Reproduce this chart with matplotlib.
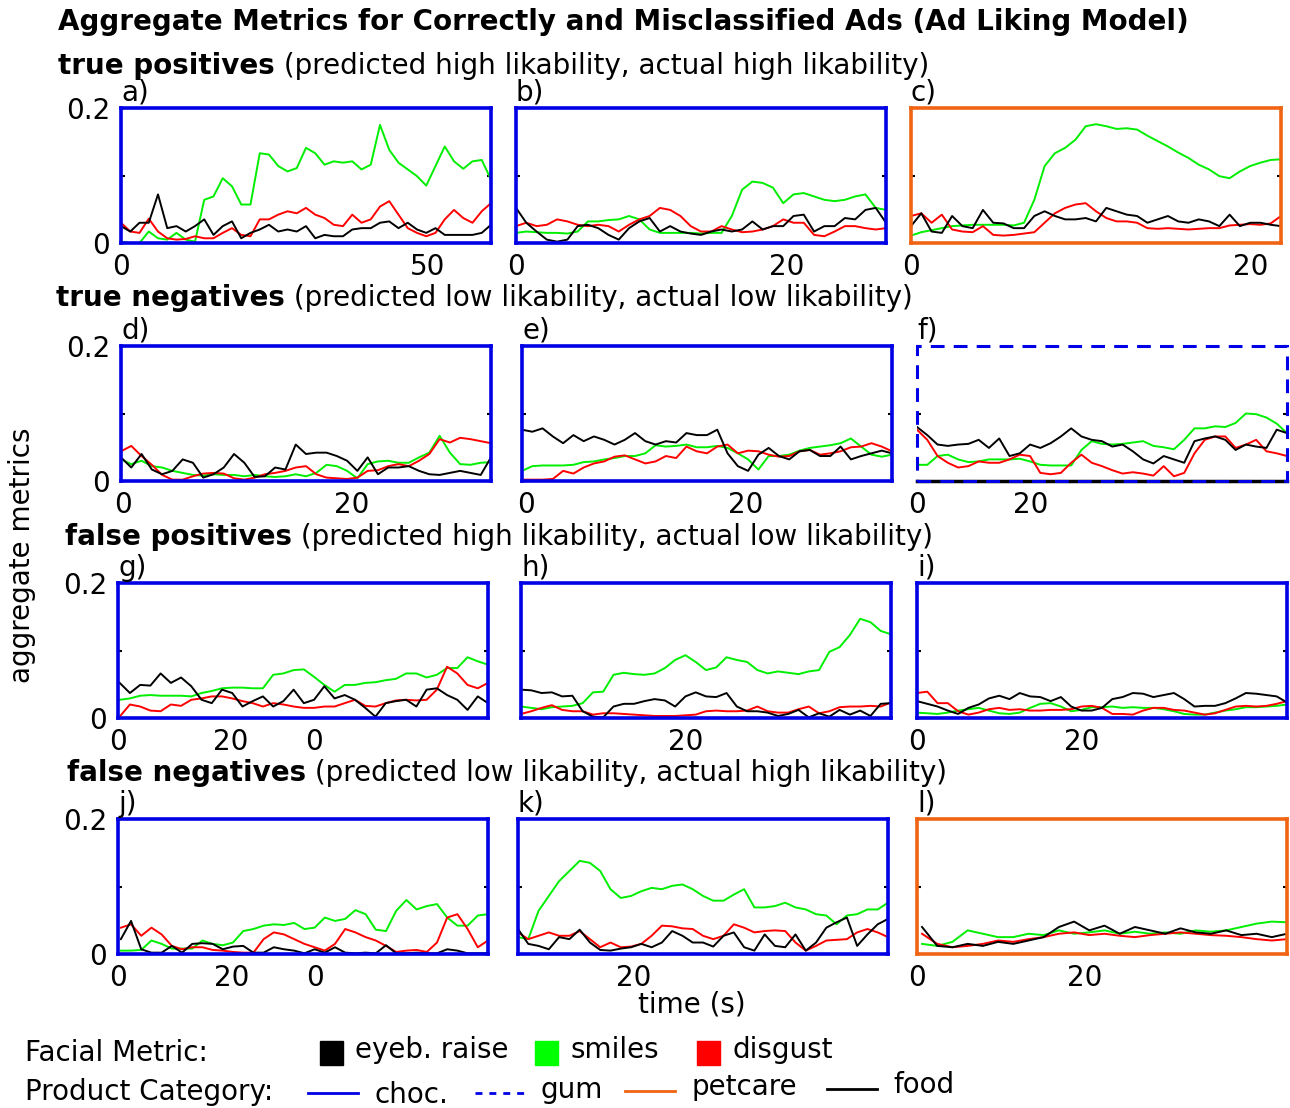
import numpy as np
import matplotlib.pyplot as plt
from matplotlib.lines import Line2D
from matplotlib.patches import Rectangle

W, H = 1290, 1108
FS = 20

BLUE = '#0000e6'
ORANGE = '#f06414'
GREEN = '#00ee00'
RED = '#ff0000'

# facial metric traces, sampled evenly over each ad's time range
# a) true positive, choc.
a_smile = [0.002, 0.0, 0.0, 0.017, 0.007, 0.005, 0.015, 0.005, 0.002, 0.064, 0.069, 0.096, 0.084, 0.057,
           0.057, 0.133, 0.131, 0.114, 0.106, 0.111, 0.141, 0.133, 0.116, 0.121, 0.119, 0.121, 0.109, 0.116,
           0.175, 0.138, 0.119, 0.109, 0.099, 0.085, 0.114, 0.143, 0.121, 0.110, 0.121, 0.123, 0.094]
a_disg = [0.030, 0.017, 0.015, 0.036, 0.017, 0.007, 0.005, 0.006, 0.010, 0.007, 0.007, 0.015, 0.022, 0.012,
          0.010, 0.035, 0.035, 0.042, 0.047, 0.044, 0.052, 0.042, 0.037, 0.027, 0.025, 0.042, 0.030, 0.035,
          0.054, 0.062, 0.042, 0.022, 0.015, 0.010, 0.015, 0.035, 0.049, 0.037, 0.030, 0.047, 0.059]
a_eyeb = [0.025, 0.017, 0.030, 0.030, 0.072, 0.022, 0.025, 0.017, 0.025, 0.035, 0.012, 0.025, 0.032, 0.007,
          0.015, 0.020, 0.027, 0.017, 0.020, 0.017, 0.025, 0.007, 0.012, 0.010, 0.010, 0.020, 0.022, 0.022,
          0.030, 0.032, 0.022, 0.030, 0.020, 0.015, 0.022, 0.012, 0.012, 0.012, 0.012, 0.015, 0.027]

# b) true positive, choc.
b_smile = [0.015, 0.017, 0.016, 0.015, 0.015, 0.014, 0.017, 0.032, 0.032, 0.034, 0.035, 0.040, 0.035, 0.020,
           0.015, 0.015, 0.015, 0.015, 0.014, 0.015, 0.015, 0.040, 0.079, 0.091, 0.089, 0.082, 0.059, 0.072,
           0.074, 0.069, 0.064, 0.062, 0.064, 0.069, 0.072, 0.052, 0.049]
b_disg = [0.025, 0.030, 0.025, 0.027, 0.035, 0.032, 0.027, 0.025, 0.027, 0.025, 0.017, 0.027, 0.035, 0.040,
          0.052, 0.049, 0.040, 0.025, 0.017, 0.017, 0.025, 0.020, 0.016, 0.017, 0.020, 0.025, 0.035, 0.030,
          0.030, 0.012, 0.010, 0.017, 0.025, 0.025, 0.022, 0.020, 0.022]
b_eyeb = [0.052, 0.030, 0.017, 0.005, 0.002, 0.005, 0.025, 0.027, 0.022, 0.012, 0.005, 0.022, 0.032, 0.037,
          0.017, 0.025, 0.017, 0.014, 0.012, 0.017, 0.020, 0.017, 0.020, 0.032, 0.020, 0.025, 0.025, 0.040,
          0.042, 0.017, 0.025, 0.025, 0.037, 0.035, 0.049, 0.052, 0.030]

# c) true positive, petcare
c_smile = [0.011, 0.016, 0.019, 0.022, 0.025, 0.026, 0.027, 0.027, 0.027, 0.027, 0.026, 0.030, 0.064, 0.114,
           0.133, 0.141, 0.153, 0.173, 0.176, 0.173, 0.169, 0.170, 0.168, 0.159, 0.151, 0.143, 0.134, 0.126,
           0.116, 0.109, 0.099, 0.096, 0.106, 0.114, 0.119, 0.123, 0.124]
c_disg = [0.040, 0.044, 0.030, 0.042, 0.020, 0.017, 0.016, 0.025, 0.012, 0.011, 0.012, 0.014, 0.016, 0.030,
          0.044, 0.052, 0.057, 0.059, 0.047, 0.037, 0.032, 0.032, 0.030, 0.022, 0.021, 0.022, 0.021, 0.020,
          0.021, 0.022, 0.022, 0.026, 0.027, 0.028, 0.027, 0.029, 0.040]
c_eyeb = [0.025, 0.044, 0.017, 0.015, 0.040, 0.025, 0.022, 0.049, 0.030, 0.029, 0.022, 0.022, 0.040, 0.047,
          0.040, 0.035, 0.035, 0.037, 0.032, 0.052, 0.047, 0.042, 0.040, 0.030, 0.035, 0.040, 0.032, 0.030,
          0.035, 0.032, 0.025, 0.042, 0.025, 0.030, 0.030, 0.027, 0.025]

# d) true negative, choc.
d_smile = [0.032, 0.025, 0.030, 0.022, 0.020, 0.015, 0.012, 0.009, 0.008, 0.010, 0.009, 0.009, 0.007, 0.009,
           0.007, 0.006, 0.007, 0.010, 0.007, 0.012, 0.024, 0.022, 0.015, 0.004, 0.025, 0.029, 0.030, 0.027,
           0.027, 0.035, 0.042, 0.067, 0.042, 0.025, 0.024, 0.027, 0.028]
d_disg = [0.044, 0.052, 0.037, 0.024, 0.009, 0.002, 0.002, 0.007, 0.011, 0.012, 0.011, 0.004, 0.002, 0.005,
          0.010, 0.012, 0.015, 0.020, 0.022, 0.010, 0.005, 0.004, 0.003, 0.005, 0.015, 0.016, 0.022, 0.025,
          0.022, 0.030, 0.040, 0.062, 0.057, 0.064, 0.062, 0.059, 0.056]
d_eyeb = [0.035, 0.020, 0.040, 0.017, 0.010, 0.015, 0.032, 0.027, 0.005, 0.010, 0.020, 0.040, 0.027, 0.006,
          0.007, 0.020, 0.017, 0.054, 0.040, 0.042, 0.042, 0.037, 0.030, 0.015, 0.035, 0.010, 0.020, 0.020,
          0.022, 0.015, 0.010, 0.009, 0.012, 0.015, 0.012, 0.009, 0.035]

# e) true negative, choc.
e_smile = [0.015, 0.022, 0.023, 0.023, 0.023, 0.024, 0.028, 0.029, 0.032, 0.034, 0.037, 0.037, 0.041, 0.053,
           0.051, 0.052, 0.054, 0.050, 0.050, 0.052, 0.049, 0.041, 0.032, 0.017, 0.037, 0.037, 0.039, 0.045,
           0.049, 0.051, 0.053, 0.056, 0.063, 0.051, 0.039, 0.036, 0.039]
e_disg = [0.002, 0.002, 0.002, 0.003, 0.015, 0.011, 0.020, 0.026, 0.029, 0.036, 0.038, 0.032, 0.026, 0.029,
          0.037, 0.034, 0.051, 0.044, 0.041, 0.051, 0.054, 0.041, 0.045, 0.044, 0.039, 0.036, 0.037, 0.044,
          0.046, 0.039, 0.041, 0.044, 0.050, 0.051, 0.056, 0.051, 0.044]
e_eyeb = [0.076, 0.073, 0.078, 0.066, 0.056, 0.068, 0.059, 0.066, 0.061, 0.054, 0.061, 0.071, 0.059, 0.054,
          0.059, 0.057, 0.071, 0.068, 0.068, 0.076, 0.041, 0.022, 0.015, 0.039, 0.049, 0.037, 0.032, 0.044,
          0.046, 0.037, 0.037, 0.051, 0.032, 0.037, 0.041, 0.045, 0.041]

# f) true negative, gum
f_smile = [0.024, 0.024, 0.037, 0.039, 0.032, 0.028, 0.029, 0.032, 0.032, 0.032, 0.033, 0.029, 0.024, 0.023,
           0.023, 0.023, 0.046, 0.059, 0.055, 0.054, 0.055, 0.057, 0.059, 0.052, 0.050, 0.047, 0.061, 0.078,
           0.078, 0.081, 0.080, 0.086, 0.100, 0.099, 0.094, 0.085, 0.071]
f_disg = [0.076, 0.061, 0.037, 0.027, 0.020, 0.022, 0.029, 0.027, 0.027, 0.032, 0.039, 0.037, 0.012, 0.010,
          0.012, 0.027, 0.039, 0.027, 0.022, 0.016, 0.011, 0.013, 0.011, 0.008, 0.022, 0.007, 0.012, 0.041,
          0.061, 0.066, 0.066, 0.049, 0.054, 0.061, 0.044, 0.041, 0.037]
f_eyeb = [0.080, 0.068, 0.054, 0.052, 0.054, 0.055, 0.061, 0.049, 0.063, 0.037, 0.041, 0.054, 0.049, 0.056,
          0.066, 0.078, 0.066, 0.061, 0.059, 0.051, 0.054, 0.044, 0.032, 0.026, 0.037, 0.032, 0.027, 0.059,
          0.063, 0.066, 0.061, 0.046, 0.054, 0.051, 0.049, 0.076, 0.071]

# g) false positive, choc.
g_smile = [0.027, 0.029, 0.033, 0.034, 0.033, 0.033, 0.033, 0.032, 0.037, 0.040, 0.044, 0.045, 0.045, 0.044,
           0.044, 0.064, 0.066, 0.071, 0.072, 0.061, 0.049, 0.039, 0.049, 0.049, 0.052, 0.053, 0.056, 0.058,
           0.066, 0.066, 0.060, 0.064, 0.074, 0.074, 0.090, 0.084, 0.079]
g_disg = [0.002, 0.020, 0.017, 0.011, 0.010, 0.020, 0.018, 0.027, 0.029, 0.032, 0.032, 0.029, 0.025, 0.022,
          0.017, 0.022, 0.020, 0.017, 0.015, 0.015, 0.017, 0.017, 0.022, 0.027, 0.018, 0.017, 0.022, 0.026,
          0.027, 0.026, 0.027, 0.042, 0.076, 0.066, 0.049, 0.044, 0.052]
g_eyeb = [0.052, 0.037, 0.049, 0.048, 0.066, 0.052, 0.060, 0.047, 0.027, 0.022, 0.042, 0.037, 0.017, 0.025,
          0.032, 0.017, 0.025, 0.042, 0.022, 0.027, 0.047, 0.029, 0.034, 0.027, 0.015, 0.002, 0.022, 0.025,
          0.027, 0.017, 0.042, 0.044, 0.034, 0.027, 0.012, 0.032, 0.022]

# h) false positive, choc.
h_smile = [0.017, 0.015, 0.013, 0.016, 0.017, 0.018, 0.022, 0.038, 0.039, 0.064, 0.067, 0.065, 0.064, 0.066,
           0.074, 0.086, 0.093, 0.083, 0.071, 0.075, 0.090, 0.086, 0.083, 0.071, 0.066, 0.069, 0.067, 0.065,
           0.069, 0.071, 0.098, 0.105, 0.123, 0.147, 0.142, 0.129, 0.124]
h_disg = [0.006, 0.010, 0.015, 0.019, 0.012, 0.010, 0.010, 0.005, 0.007, 0.007, 0.006, 0.005, 0.004, 0.003,
          0.003, 0.003, 0.004, 0.005, 0.010, 0.011, 0.010, 0.010, 0.011, 0.017, 0.010, 0.008, 0.008, 0.013,
          0.017, 0.007, 0.010, 0.016, 0.017, 0.017, 0.018, 0.017, 0.023]
h_eyeb = [0.042, 0.041, 0.037, 0.038, 0.032, 0.033, 0.010, 0.002, 0.001, 0.017, 0.021, 0.021, 0.025, 0.028,
          0.026, 0.017, 0.032, 0.038, 0.032, 0.031, 0.037, 0.017, 0.010, 0.010, 0.008, 0.003, 0.006, 0.012,
          0.001, 0.007, 0.002, 0.012, 0.005, 0.011, 0.003, 0.021, 0.022]

# i) false positive, choc.
i_smile = [0.008, 0.007, 0.006, 0.008, 0.011, 0.013, 0.015, 0.011, 0.007, 0.006, 0.008, 0.015, 0.021, 0.022,
           0.017, 0.010, 0.012, 0.016, 0.016, 0.017, 0.015, 0.016, 0.015, 0.015, 0.013, 0.010, 0.006, 0.005,
           0.005, 0.008, 0.011, 0.013, 0.016, 0.016, 0.017, 0.018, 0.020]
i_disg = [0.037, 0.039, 0.022, 0.022, 0.010, 0.005, 0.008, 0.013, 0.015, 0.012, 0.013, 0.011, 0.011, 0.012,
          0.012, 0.013, 0.017, 0.018, 0.015, 0.006, 0.006, 0.005, 0.011, 0.015, 0.015, 0.012, 0.011, 0.008,
          0.005, 0.007, 0.012, 0.017, 0.018, 0.017, 0.018, 0.021, 0.025]
i_eyeb = [0.025, 0.021, 0.017, 0.011, 0.006, 0.015, 0.020, 0.029, 0.033, 0.028, 0.037, 0.032, 0.031, 0.025,
          0.031, 0.017, 0.011, 0.011, 0.015, 0.028, 0.031, 0.037, 0.036, 0.031, 0.034, 0.037, 0.028, 0.017,
          0.018, 0.018, 0.022, 0.029, 0.037, 0.036, 0.034, 0.032, 0.023]

# j) false negative, choc.
j_smile = [0.005, 0.005, 0.006, 0.020, 0.015, 0.008, 0.008, 0.008, 0.020, 0.015, 0.013, 0.017, 0.034, 0.037,
           0.042, 0.044, 0.043, 0.046, 0.037, 0.039, 0.054, 0.049, 0.052, 0.065, 0.059, 0.036, 0.034, 0.064,
           0.080, 0.066, 0.071, 0.074, 0.054, 0.042, 0.042, 0.057, 0.059]
j_disg = [0.039, 0.044, 0.027, 0.039, 0.029, 0.012, 0.007, 0.010, 0.010, 0.006, 0.005, 0.003, 0.002, 0.002,
          0.022, 0.032, 0.029, 0.022, 0.015, 0.010, 0.005, 0.015, 0.037, 0.032, 0.025, 0.020, 0.012, 0.003,
          0.005, 0.006, 0.003, 0.017, 0.054, 0.059, 0.037, 0.010, 0.020]
j_eyeb = [0.022, 0.049, 0.007, 0.002, 0.002, 0.012, 0.002, 0.015, 0.016, 0.015, 0.007, 0.011, 0.012, 0.002,
          0.002, 0.010, 0.007, 0.005, 0.001, 0.007, 0.002, 0.010, 0.002, 0.001, 0.002, 0.001, 0.013, 0.001,
          0.001, 0.002, 0.001, 0.001, 0.007, 0.005, 0.001, 0.001, 0.001]

# k) false negative, choc.
k_smile = [0.025, 0.022, 0.064, 0.086, 0.108, 0.123, 0.138, 0.135, 0.123, 0.096, 0.083, 0.086, 0.093, 0.098,
           0.096, 0.101, 0.103, 0.096, 0.086, 0.079, 0.079, 0.088, 0.096, 0.069, 0.069, 0.071, 0.076, 0.069,
           0.066, 0.059, 0.057, 0.044, 0.057, 0.059, 0.066, 0.066, 0.076]
k_disg = [0.032, 0.022, 0.027, 0.032, 0.027, 0.027, 0.034, 0.022, 0.010, 0.017, 0.010, 0.011, 0.015, 0.027,
          0.042, 0.041, 0.038, 0.037, 0.027, 0.022, 0.027, 0.044, 0.039, 0.032, 0.034, 0.035, 0.034, 0.017,
          0.005, 0.012, 0.020, 0.021, 0.022, 0.032, 0.037, 0.032, 0.025]
k_eyeb = [0.037, 0.015, 0.012, 0.007, 0.025, 0.022, 0.036, 0.017, 0.006, 0.005, 0.008, 0.010, 0.015, 0.010,
          0.017, 0.034, 0.027, 0.017, 0.017, 0.011, 0.027, 0.032, 0.010, 0.005, 0.029, 0.012, 0.010, 0.029,
          0.005, 0.017, 0.039, 0.047, 0.054, 0.012, 0.029, 0.044, 0.052]

# l) false negative, petcare
l_smile = [0.015, 0.012, 0.018, 0.035, 0.030, 0.025, 0.025, 0.030, 0.028, 0.035, 0.030, 0.032, 0.035, 0.030,
           0.033, 0.030, 0.032, 0.030, 0.035, 0.033, 0.035, 0.040, 0.045, 0.048, 0.047]
l_disg = [0.030, 0.015, 0.010, 0.012, 0.015, 0.020, 0.018, 0.022, 0.025, 0.030, 0.032, 0.028, 0.030, 0.027,
          0.025, 0.028, 0.030, 0.032, 0.030, 0.028, 0.027, 0.025, 0.022, 0.020, 0.022]
l_eyeb = [0.040, 0.012, 0.010, 0.015, 0.012, 0.018, 0.015, 0.020, 0.025, 0.040, 0.048, 0.035, 0.042, 0.030,
          0.040, 0.035, 0.030, 0.038, 0.032, 0.030, 0.035, 0.028, 0.030, 0.025, 0.030]

# panel layout: letter, left px, top px, x range, x ticks, tick labels, category, traces
panels = [
    ('a', 121, 108, (0, 60.3), [0, 50], ['0', '50'], 'choc', a_eyeb, a_smile, a_disg),
    ('b', 516, 108, (0, 27.3), [0, 20], ['0', '20'], 'choc', b_eyeb, b_smile, b_disg),
    ('c', 911, 108, (0, 21.8), [0, 20], ['0', '20'], 'pet', c_eyeb, c_smile, c_disg),
    ('d', 121, 346, (-0.2, 32.2), [0, 20], ['0', '20'], 'choc', d_eyeb, d_smile, d_disg),
    ('e', 522, 346, (-0.4, 33.4), [0, 20], ['0', '20'], 'choc', e_eyeb, e_smile, e_disg),
    ('f', 917, 346, (0, 65), [0, 20], ['0', '20'], 'gum', f_eyeb, f_smile, f_disg),
    ('g', 118, 583, (0.3, 65.8), [0, 20, 34.8], ['0', '20', '0'], 'choc', g_eyeb, g_smile, g_disg),
    ('h', 521, 583, (5.5, 38), [20], ['20'], 'choc', h_eyeb, h_smile, h_disg),
    ('i', 917, 583, (0, 45), [0, 20], ['0', '20'], 'choc', i_eyeb, i_smile, i_disg),
    ('j', 118, 819, (0.5, 65.2), [0, 20, 34.7], ['0', '20', '0'], 'choc', j_eyeb, j_smile, j_disg),
    ('k', 518, 819, (10, 42), [20], ['20'], 'choc', k_eyeb, k_smile, k_disg),
    ('l', 917, 819, (0.6, 44.1), [0, 20], ['0', '20'], 'pet', l_eyeb, l_smile, l_disg),
]

fig = plt.figure(figsize=(W / 100, H / 100), dpi=100)
bg = fig.add_axes([0, 0, 1, 1], zorder=-1)
bg.axis('off')


def fx(px):
    return px / W


def fy(py):
    return 1 - py / H


for letter, left, top, xr, xt, xtl, cat, eyeb, smile, disg in panels:
    ax = fig.add_axes([fx(left), fy(top + 135), 370 / W, 135 / H])
    for vals, col in [(smile, GREEN), (disg, RED), (eyeb, 'black')]:
        t = np.linspace(xr[0], xr[1], len(vals))
        ax.plot(t, vals, color=col, lw=1.4)
    ax.set_xlim(*xr)
    ax.set_ylim(0, 0.2)
    ax.set_xticks(xt)
    ax.set_xticklabels(xtl)
    ax.set_yticks([0, 0.1, 0.2])
    if left < 200:
        ax.set_yticklabels(['0', '', '0.2'])
    else:
        ax.set_yticklabels(['', '', ''])
    ax.tick_params(axis='x', length=0, labelsize=FS, pad=7)
    ax.tick_params(axis='y', direction='in', length=3, width=1.5, left=True, right=True,
                   labelsize=FS, pad=8)
    if cat == 'gum':
        for s in ['top', 'left', 'right']:
            ax.spines[s].set_visible(False)
        ax.spines['bottom'].set_color('black')
        ax.spines['bottom'].set_linewidth(2.5)
        ax.add_patch(Rectangle((0, 0), 1, 1, transform=ax.transAxes, fill=False, ec=BLUE,
                               lw=2.2, ls=(0, (4.5, 3)), clip_on=False, zorder=3))
    else:
        for s in ax.spines.values():
            s.set_color(ORANGE if cat == 'pet' else BLUE)
            s.set_linewidth(2.6)
    ax.annotate(letter + ')', xy=(0, 1), xycoords='axes fraction', xytext=(0, 11),
                textcoords='offset points', ha='left', va='center', fontsize=FS)

# title and row headers
bg.text(fx(58), fy(22), 'Aggregate Metrics for Correctly and Misclassified Ads (Ad Liking Model)',
        fontsize=FS, fontweight='bold', va='center', ha='left')
headers = [
    ('true positives', ' (predicted high likability, actual high likability)', 58, 66),
    ('true negatives', ' (predicted low likability, actual low likability)', 56, 298),
    ('false positives', ' (predicted high likability, actual low likability)', 65, 537),
    ('false negatives', ' (predicted low likability, actual high likability)', 67, 773),
]
for bold, rest, x, y in headers:
    tb = bg.text(fx(x), fy(y), bold, fontsize=FS, fontweight='bold', va='center', ha='left')
    bg.annotate(rest, xy=(1, 0), xycoords=tb, va='bottom', ha='left', fontsize=FS)

bg.text(fx(22), fy(555), 'aggregate metrics', rotation=90, fontsize=FS, va='center', ha='center')
bg.text(fx(692), fy(1005), 'time (s)', fontsize=FS, va='center', ha='center')

# legend
bg.text(fx(25), fy(1053), 'Facial Metric:', fontsize=FS, va='center', ha='left')
for x0, col, lab in [(320, 'black', 'eyeb. raise'), (535, '#00ff00', 'smiles'), (697, RED, 'disgust')]:
    bg.add_patch(Rectangle((fx(x0), fy(1065)), 23 / W, 24 / H, color=col, transform=bg.transAxes))
    bg.text(fx(x0 + 35), fy(1050), lab, fontsize=FS, va='center', ha='left')

bg.text(fx(25), fy(1092), 'Product Category:', fontsize=FS, va='center', ha='left')
for x0, y0, ty, col, ls, lab in [(308, 1093, 1095, BLUE, '-', 'choc.'),
                                  (475, 1093, 1090, BLUE, (0, (2.5, 2.5)), 'gum'),
                                  (625, 1091, 1087, ORANGE, '-', 'petcare'),
                                  (827, 1089, 1085, 'black', '-', 'food')]:
    bg.add_line(Line2D([fx(x0), fx(x0 + 50)], [fy(y0), fy(y0)], color=col, lw=2, ls=ls,
                       transform=bg.transAxes))
    bg.text(fx(x0 + 66), fy(ty), lab, fontsize=FS, va='center', ha='left')

bg.set_xlim(0, 1)
bg.set_ylim(0, 1)

plt.savefig('out.png', dpi=100)
